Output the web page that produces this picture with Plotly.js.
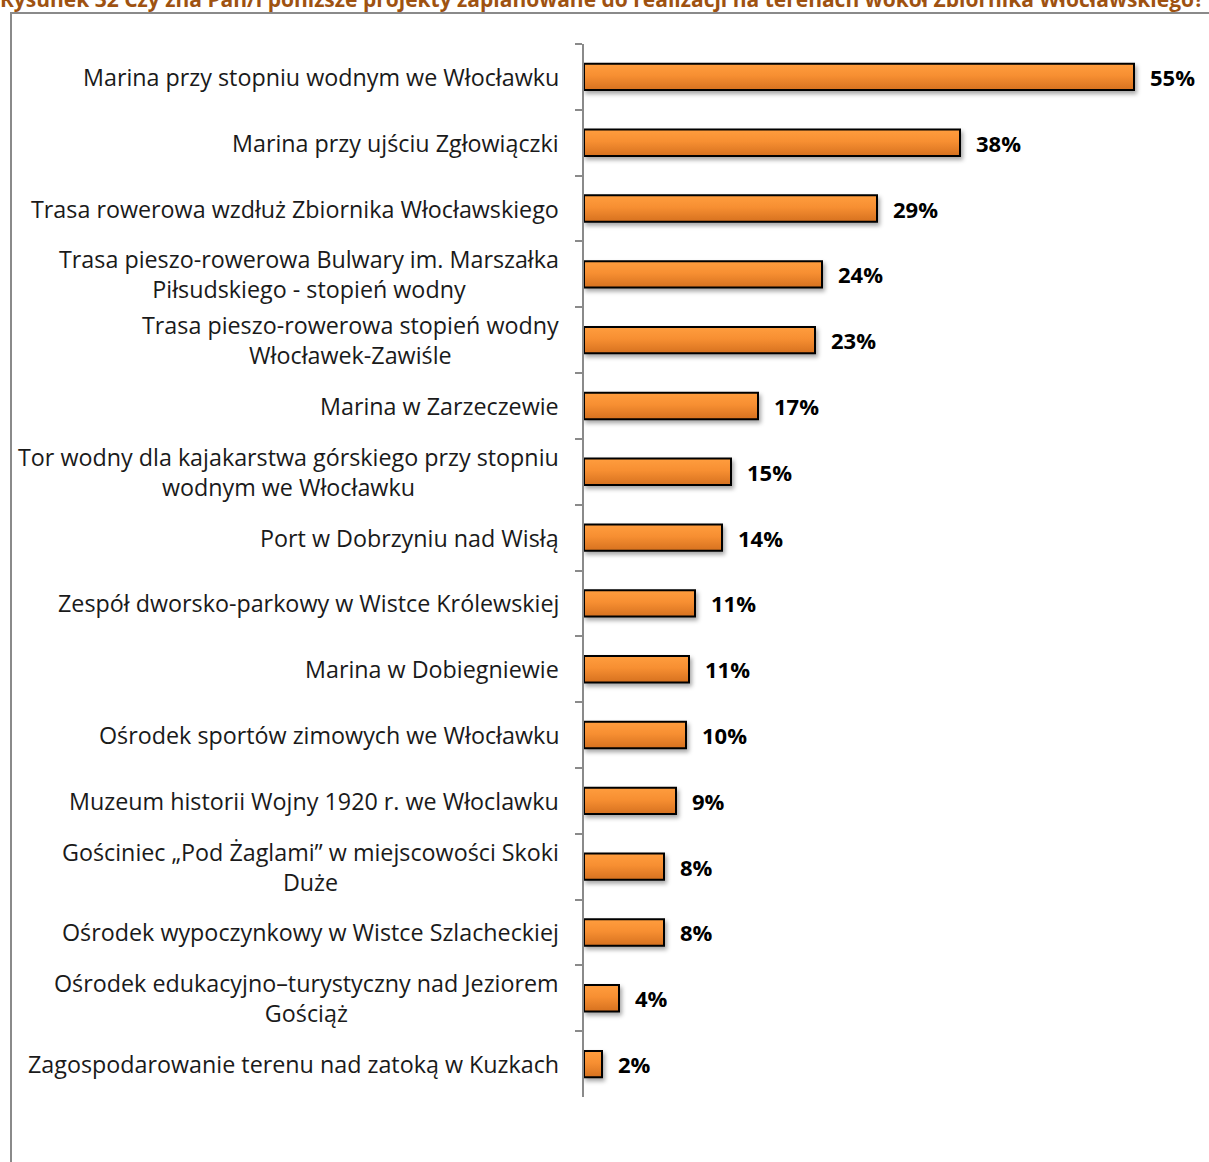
<!DOCTYPE html>
<html>
<head>
<meta charset="utf-8">
<script src="https://cdn.plot.ly/plotly-3.0.1.min.js"></script>
<style>
  html, body { margin: 0; padding: 0; background: #fff; }
  #wrap { position: relative; width: 1209px; height: 1162px; overflow: hidden; }
  #frame { position: absolute; left: 10px; top: 12px; width: 1300px; height: 1300px;
           border-left: 2px solid #8a8a8a; border-top: 2px solid #8a8a8a; }
  #title { position: absolute; left: 0px; top: -11px; white-space: nowrap; line-height: 1;
           font-family: "Open Sans", sans-serif; font-weight: bold; font-size: 21px; color: #9E5211; }
  #chart { position: absolute; left: 0; top: 0; width: 1209px; height: 1162px; }
</style>
</head>
<body>
<div id="wrap">
  <div id="frame"></div>
  <div id="title">Rysunek 32 Czy zna Pan/i poniższe projekty zaplanowane do realizacji na terenach wokół Zbiornika Włocławskiego?</div>
  <div id="chart"></div>
</div>
<script>
const categories = [
  "Marina przy stopniu wodnym we Włocławku",
  "Marina przy ujściu Zgłowiączki",
  "Trasa rowerowa wzdłuż Zbiornika Włocławskiego",
  "Trasa pieszo-rowerowa Bulwary im. Marszałka<br>Piłsudskiego - stopień wodny",
  "Trasa pieszo-rowerowa stopień wodny<br>Włocławek-Zawiśle",
  "Marina w Zarzeczewie",
  "Tor wodny dla kajakarstwa górskiego przy stopniu<br>wodnym we Włocławku",
  "Port w Dobrzyniu nad Wisłą",
  "Zespół dworsko-parkowy w Wistce Królewskiej",
  "Marina w Dobiegniewie",
  "Ośrodek sportów zimowych we Włocławku",
  "Muzeum historii Wojny 1920 r. we Włoclawku",
  "Gościniec „Pod Żaglami” w miejscowości Skoki<br>Duże",
  "Ośrodek wypoczynkowy w Wistce Szlacheckiej",
  "Ośrodek edukacyjno–turystyczny nad Jeziorem<br>Gościąż",
  "Zagospodarowanie terenu nad zatoką w Kuzkach"
];
const values = [55.0, 37.6, 29.3, 23.8, 23.1, 17.4, 14.7, 13.8, 11.1, 10.5, 10.2, 9.2, 8.0, 8.0, 3.5, 1.8];
const valueLabels = values.map(v => Math.round(v) + "%");
const catIds = categories.map((c, i) => "c" + i);

const trace = {
  type: "bar",
  orientation: "h",
  x: values,
  y: catIds,
  marker: { color: "#F08A2E", line: { color: "#000000", width: 2 } },
  hoverinfo: "skip"
};

const annotations = [];
categories.forEach((c, i) => {
  annotations.push({
    xref: "paper", yref: "y", x: 0, y: catIds[i],
    xanchor: "right", yanchor: "middle", xshift: -23,
    align: "center", showarrow: false, text: c,
    font: { family: "Open Sans, sans-serif", size: 23.3, color: "#1a1a1a" }
  });
  annotations.push({
    xref: "x", yref: "y", x: values[i], y: catIds[i],
    xanchor: "left", yanchor: "middle", xshift: 14,
    showarrow: false, text: "<b>" + valueLabels[i] + "</b>",
    font: { family: "Open Sans, sans-serif", size: 22, color: "#000000" }
  });
});

const layout = {
  width: 1209, height: 1162,
  margin: { l: 584, r: 25, t: 44, b: 65, pad: 0 },
  paper_bgcolor: "rgba(0,0,0,0)",
  plot_bgcolor: "rgba(0,0,0,0)",
  showlegend: false,
  bargap: 0.6,
  xaxis: { range: [0, 60], visible: false, fixedrange: true },
  yaxis: {
    type: "category", autorange: "reversed",
    showticklabels: false, showline: true, linecolor: "#8a8a8a", linewidth: 2,
    ticks: "outside", tickson: "boundaries", ticklen: 7, tickcolor: "#8a8a8a", tickwidth: 2,
    showgrid: false, zeroline: false, fixedrange: true
  },
  annotations: annotations
};

Plotly.newPlot("chart", [trace], layout, { displayModeBar: false, staticPlot: true }).then(() => {
  const svg = document.querySelector("#chart .main-svg");
  const ns = "http://www.w3.org/2000/svg";
  let defs = svg.querySelector("defs");
  if (!defs) { defs = document.createElementNS(ns, "defs"); svg.insertBefore(defs, svg.firstChild); }
  const g = document.createElementNS(ns, "linearGradient");
  g.setAttribute("id", "barGrad");
  g.setAttribute("x1", "0"); g.setAttribute("y1", "0");
  g.setAttribute("x2", "0"); g.setAttribute("y2", "1");
  [["0", "#FF9D3E"], ["0.45", "#F78F32"], ["1", "#D6711F"]].forEach(([o, c]) => {
    const s = document.createElementNS(ns, "stop");
    s.setAttribute("offset", o); s.setAttribute("stop-color", c);
    g.appendChild(s);
  });
  defs.appendChild(g);
  document.querySelectorAll("#chart .bars .point path").forEach(p => {
    p.style.fill = "url(#barGrad)";
    p.style.filter = "drop-shadow(2px 3px 2px rgba(0,0,0,0.35))";
  });
});
</script>
</body>
</html>
